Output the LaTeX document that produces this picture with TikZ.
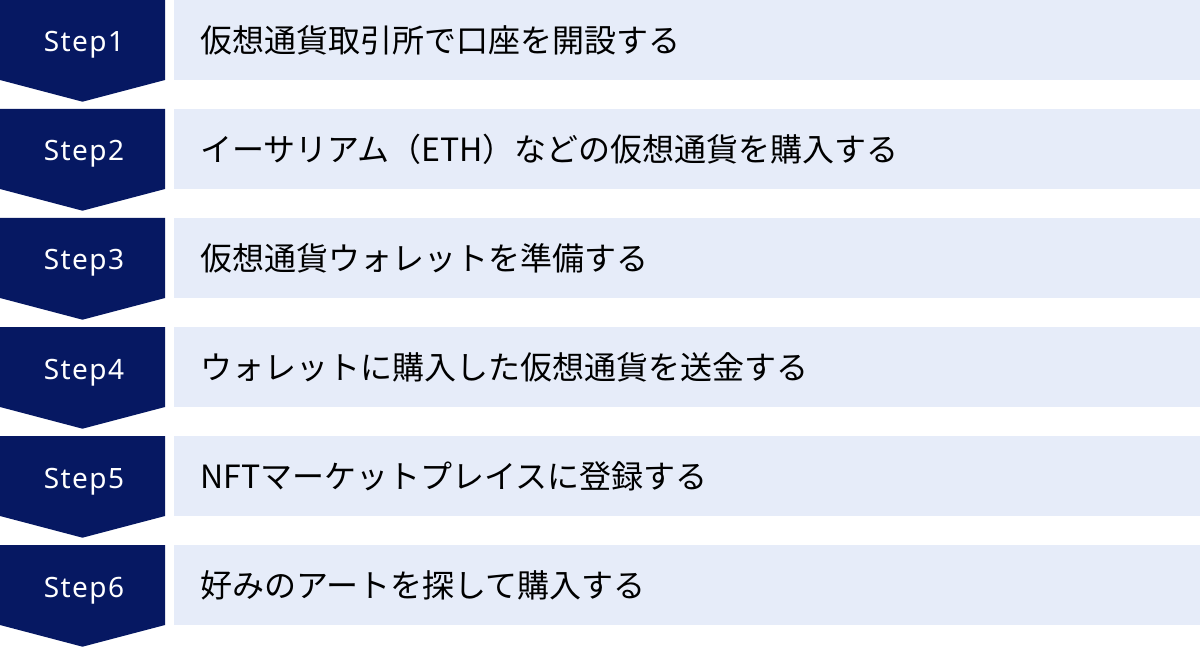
\documentclass[tikz,border=0pt]{standalone}
\usepackage{fontspec}
\setmainfont{Noto Sans CJK JP}
\newfontfamily\steplatin{Noto Sans}
\definecolor{navy}{HTML}{061862}
\definecolor{lightbox}{HTML}{E6ECF9}
\begin{document}
\begin{tikzpicture}[x=1pt,y=-1pt,
  stepshape/.style={fill=navy,draw=none},
  textbox/.style={fill=lightbox,draw=none},
  steplabel/.style={text=white,font=\steplatin\fontsize{28}{28}\selectfont\addfontfeatures{LetterSpace=5},anchor=base,inner sep=0pt},
  desc/.style={text=black,font=\fontsize{32}{32}\selectfont,anchor=west,inner sep=0pt}]
\useasboundingbox (0,0) rectangle (1200,647);
\foreach \i/\t in {1/仮想通貨取引所で口座を開設する,
                   2/イーサリアム（ETH）などの仮想通貨を購入する,
                   3/仮想通貨ウォレットを準備する,
                   4/ウォレットに購入した仮想通貨を送金する,
                   5/NFTマーケットプレイスに登録する,
                   6/好みのアートを探して購入する}{
  \pgfmathsetmacro{\y}{(\i-1)*109}
  \fill[stepshape] (0,\y) -- (165,\y) -- (165,\y+80) -- (82.5,\y+101.7) -- (0,\y+80) -- cycle;
  \fill[textbox] (174,\y) rectangle (1200,\y+80);
  \node[steplabel] (s\i) at (84,\y+52) {Step\i};
  \node[desc] (d\i) at (200,\y+40) {\t};
}
\end{tikzpicture}
\end{document}
